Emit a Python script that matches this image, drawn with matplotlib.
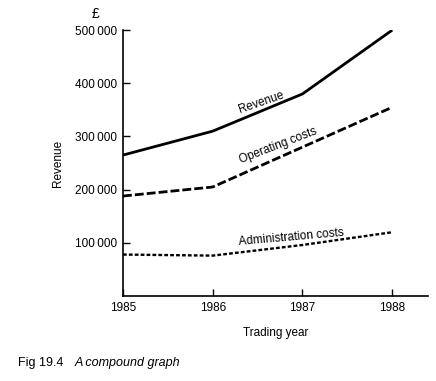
import matplotlib
matplotlib.use('Agg')
from matplotlib import pyplot as plt

plt.rcParams['font.family'] = ['Liberation Sans', 'DejaVu Sans']

# data
years = [1985, 1986, 1987, 1988]
revenue = [265000, 310000, 380000, 500000]
operating = [188000, 205000, 280000, 355000]
admin = [78000, 76000, 96000, 120000]

yticks = [100000, 200000, 300000, 400000, 500000]
ytick_labels = ['100\u2009000', '200\u2009000', '300\u2009000', '400\u2009000', '500\u2009000']

fig = plt.figure(figsize=(4.36, 3.81), dpi=100)
ax = fig.add_axes([0.282, 0.223, 0.700, 0.698])

ax.plot(years, revenue, color='black', lw=2.0, solid_capstyle='butt')
ax.plot(years, operating, color='black', lw=2.0, dashes=(3.2, 1.1))
ax.plot(years, admin, color='black', lw=1.7, dashes=(1.6, 0.9))

# line labels
ax.text(1986.54, 363000, 'Revenue', rotation=19, fontsize=8.5, ha='center', va='center')
ax.text(1986.73, 283000, 'Operating costs', rotation=21, fontsize=8.5, ha='center', va='center')
ax.text(1986.88, 111000, 'Administration costs', rotation=5, fontsize=8.5, ha='center', va='center')

ax.set_xlim(1985, 1988.4)
ax.set_ylim(0, 500000)
ax.set_xticks(years)
ax.set_xticklabels([str(y) for y in years], fontsize=8.5)
ax.set_yticks(yticks)
ax.set_yticklabels(ytick_labels, fontsize=8.5)
ax.tick_params(axis='both', direction='in', length=5, width=1, color='black', pad=4)

for s in ['top', 'right']:
    ax.spines[s].set_visible(False)
for s in ['left', 'bottom']:
    ax.spines[s].set_linewidth(1.2)

ax.set_ylabel('Revenue', fontsize=8.5, labelpad=8)
ax.set_xlabel('Trading year', fontsize=8.5, labelpad=10)

fig.text(96 / 436, 1 - 14 / 381, '\u00a3', fontsize=10, ha='center', va='center')
fig.text(18 / 436, 1 - 363 / 381, 'Fig 19.4', fontsize=9, ha='left', va='center')
fig.text(75 / 436, 1 - 363 / 381, 'A compound graph', fontsize=9, style='italic',
         ha='left', va='center')

fig.savefig('out.png', dpi=100)
